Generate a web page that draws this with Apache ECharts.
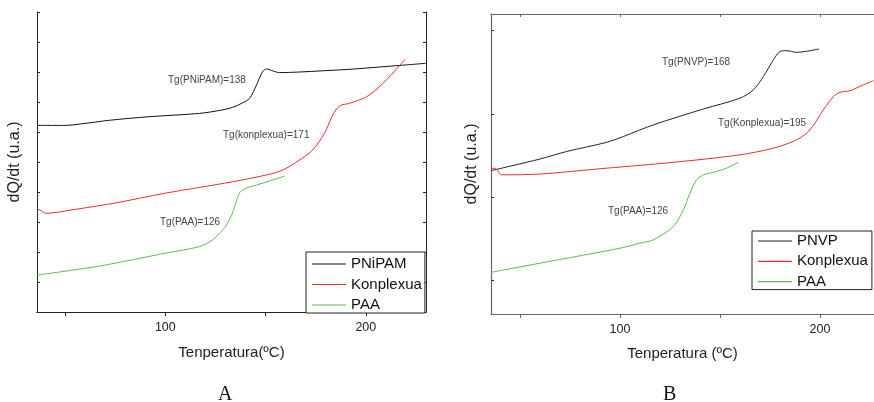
<!DOCTYPE html>
<html>
<head>
<meta charset="utf-8">
<script src="https://cdn.jsdelivr.net/npm/echarts@6/dist/echarts.min.js"></script>
<style>
  html,body{margin:0;padding:0;background:#fff;}
  #chart{width:874px;height:402px;}
</style>
</head>
<body>
<div id="chart"></div>
<script>
// === Datos (T en ºC, dQ/dt en u.a. arbitrarias) ===
// Panel A
const A_PNIPAM = [[36,6.22],[50,6.22],[58,6.27],[72,6.39],[92,6.51],[117,6.62],[128,6.73],[133.5,6.82],[138.5,6.97],[142,7.12],[145.5,7.57],[148.5,8.01],[150.5,8.10],[153,8.05],[157,7.98],[167,8.0],[192,8.09],[200,8.13],[217,8.22],[230,8.29]];
const A_KONPLEXUA = [[36,3.42],[37.5,3.40],[40.5,3.29],[55,3.42],[75.5,3.64],[100,3.96],[133.5,4.34],[150.5,4.57],[158.5,4.73],[167,5.07],[173.5,5.40],[179.5,5.97],[183.5,6.57],[187,6.87],[192,6.96],[200.5,7.18],[208.5,7.62],[217,8.23],[219.5,8.42]];
const A_PAA = [[36,1.23],[67,1.53],[100,1.96],[117,2.18],[123.5,2.40],[128.5,2.73],[130.5,2.90],[133.5,3.30],[137,3.97],[140.5,4.13],[145.5,4.23],[152,4.37],[159.5,4.53]];
// Panel B
const B_PNVP = [[35.5,1.72],[60,1.86],[73.3,1.95],[93.3,2.06],[101.7,2.13],[116.7,2.27],[141.7,2.46],[160,2.59],[166.7,2.69],[171.7,2.85],[176.7,3.05],[180,3.15],[183.3,3.16],[188.3,3.14],[199.5,3.18]];
const B_KONPLEXUA = [[35.5,1.74],[37.5,1.75],[40.8,1.67],[60,1.68],[93.3,1.75],[126.7,1.82],[160,1.91],[176.7,1.99],[188.3,2.09],[195,2.21],[201.7,2.45],[206.7,2.61],[210,2.66],[215,2.68],[221.7,2.75],[226.7,2.80]];
const B_PAA = [[35.5,0.50],[60,0.61],[100,0.79],[110,0.85],[116.7,0.89],[126.7,1.05],[131.7,1.25],[135,1.45],[138.3,1.61],[141.7,1.67],[146.7,1.70],[153.3,1.75],[159.2,1.82]];

const X_TICKS = [50,100,150,200];
const X_LABELS = [100,200];
const B_Y_TICKS = [0.4,1.4,2.4,3.4];
const LEGEND_A = ['PNiPAM','Konplexua','PAA'];
const LEGEND_B = ['PNVP','Konplexua','PAA'];
const TG_A = ['Tg(PNiPAM)=138','Tg(konplexua)=171','Tg(PAA)=126'];
const TG_B = ['Tg(PNVP)=168','Tg(Konplexua)=195','Tg(PAA)=126'];

// === Paleta ===
const black = '#111', red = '#f02a2a', green = '#5cbc4a';
const axA = '#222', axB = '#666';
const font = 'Liberation Sans, Arial, sans-serif';

const xBottom = (grid, min, max, col, name, gap) => ({
  type:'value', gridIndex:grid, min, max, position:'bottom',
  name, nameLocation:'middle', nameGap:gap,
  nameTextStyle:{ fontFamily:font, fontSize:15, color:'#222' },
  axisLine:{ show:true, lineStyle:{ color:col, width:1 } },
  axisTick:{ show:true, inside:false, length:4, customValues:X_TICKS, lineStyle:{ color:col } },
  axisLabel:{ show:true, customValues:X_LABELS, margin:9, fontFamily:font, fontSize:12.5, color:'#222' },
  splitLine:{ show:false }
});
const xTop = (grid, min, max, col) => ({
  type:'value', gridIndex:grid, min, max, position:'top',
  axisLine:{ show:true, lineStyle:{ color:col, width:1 } },
  axisTick:{ show:true, inside:true, length:3, customValues:X_TICKS, lineStyle:{ color:col } },
  axisLabel:{ show:false }, splitLine:{ show:false }
});
const yName = { fontFamily:font, fontSize:16, color:'#222' };

const series = (name, data, color, xi, yi) => ({
  name, type:'line', data, xAxisIndex:xi, yAxisIndex:yi,
  symbol:'none', smooth:0.3,
  lineStyle:{ color, width:1 }, itemStyle:{ color }, silent:true
});

const tg = (text, x, y) => ({
  type:'text', left:x, top:y - 6,
  style:{ text, fontFamily:font, fontSize:10, fill:'#444' }
});

// leyenda: icono = línea fina (rect de 1px)
const legend = (data, left, top, padding, gap) => ({
  data: data.map(n => ({ name:n, icon:'rect' })),
  orient:'vertical', left, top, padding, itemGap:gap,
  itemWidth:34, itemHeight:1.2, borderColor:'#222', borderWidth:1, borderRadius:0,
  backgroundColor:'#fff', selectedMode:false,
  textStyle:{ fontFamily:font, fontSize:15, color:'#111', lineHeight:16 }
});

const option = {
  animation:false,
  grid:[
    { left:37, right:448, top:12, bottom:90 },
    { left:491, right:0, top:14, bottom:88 }
  ],
  xAxis:[
    xBottom(0, 36, 230, axA, 'Tenperatura(ºC)', 33),
    xTop(0, 36, 230, axA),
    xBottom(1, 35.5, 227, axB, 'Tenperatura (ºC)', 32),
    xTop(1, 35.5, 227, axB)
  ],
  yAxis:[
    { type:'value', gridIndex:0, min:0, max:10, interval:1, position:'left',
      name:'dQ/dt (u.a.)', nameLocation:'middle', nameGap:14, nameTextStyle:yName,
      axisLine:{ show:true, lineStyle:{ color:axA } },
      axisTick:{ show:true, inside:true, length:3, lineStyle:{ color:axA } },
      axisLabel:{ show:false }, splitLine:{ show:false } },
    { type:'value', gridIndex:0, min:0, max:10, interval:1, position:'right',
      axisLine:{ show:true, lineStyle:{ color:axA } },
      axisTick:{ show:true, inside:true, length:3, lineStyle:{ color:axA } },
      axisLabel:{ show:false }, splitLine:{ show:false } },
    { type:'value', gridIndex:1, min:0, max:3.6, position:'left',
      name:'dQ/dt (u.a.)', nameLocation:'middle', nameGap:11, nameTextStyle:yName,
      axisLine:{ show:true, lineStyle:{ color:axB, width:1.2 } },
      axisTick:{ show:true, inside:true, length:3, customValues:B_Y_TICKS, lineStyle:{ color:'#333' } },
      axisLabel:{ show:false }, splitLine:{ show:false } }
  ],
  legend:[
    legend(LEGEND_A, 306, 252, [4,3,0,6], 4.5),
    legend(LEGEND_B, 752, 231, [2,4,0,6], 4.3)
  ],
  series:[
    series('PNiPAM', A_PNIPAM, black, 0, 0),
    series('Konplexua', A_KONPLEXUA, red, 0, 0),
    series('PAA', A_PAA, green, 0, 0),
    series('PNVP', B_PNVP, '#222', 2, 2),
    series('Konplexua', B_KONPLEXUA, red, 2, 2),
    series('PAA', B_PAA, green, 2, 2)
  ],
  graphic:[
    tg(TG_A[0], 168, 81), tg(TG_A[1], 223, 136), tg(TG_A[2], 160, 223),
    tg(TG_B[0], 662, 63), tg(TG_B[1], 718, 124), tg(TG_B[2], 608, 212),
    { type:'text', left:218, top:385, style:{ text:'A', fontFamily:'Liberation Serif, Times New Roman, serif', fontSize:20, fill:'#111' } },
    { type:'text', left:663, top:385, style:{ text:'B', fontFamily:'Liberation Serif, Times New Roman, serif', fontSize:20, fill:'#111' } }
  ]
};

const chart = echarts.init(document.getElementById('chart'));
chart.setOption(option);
</script>
</body>
</html>
